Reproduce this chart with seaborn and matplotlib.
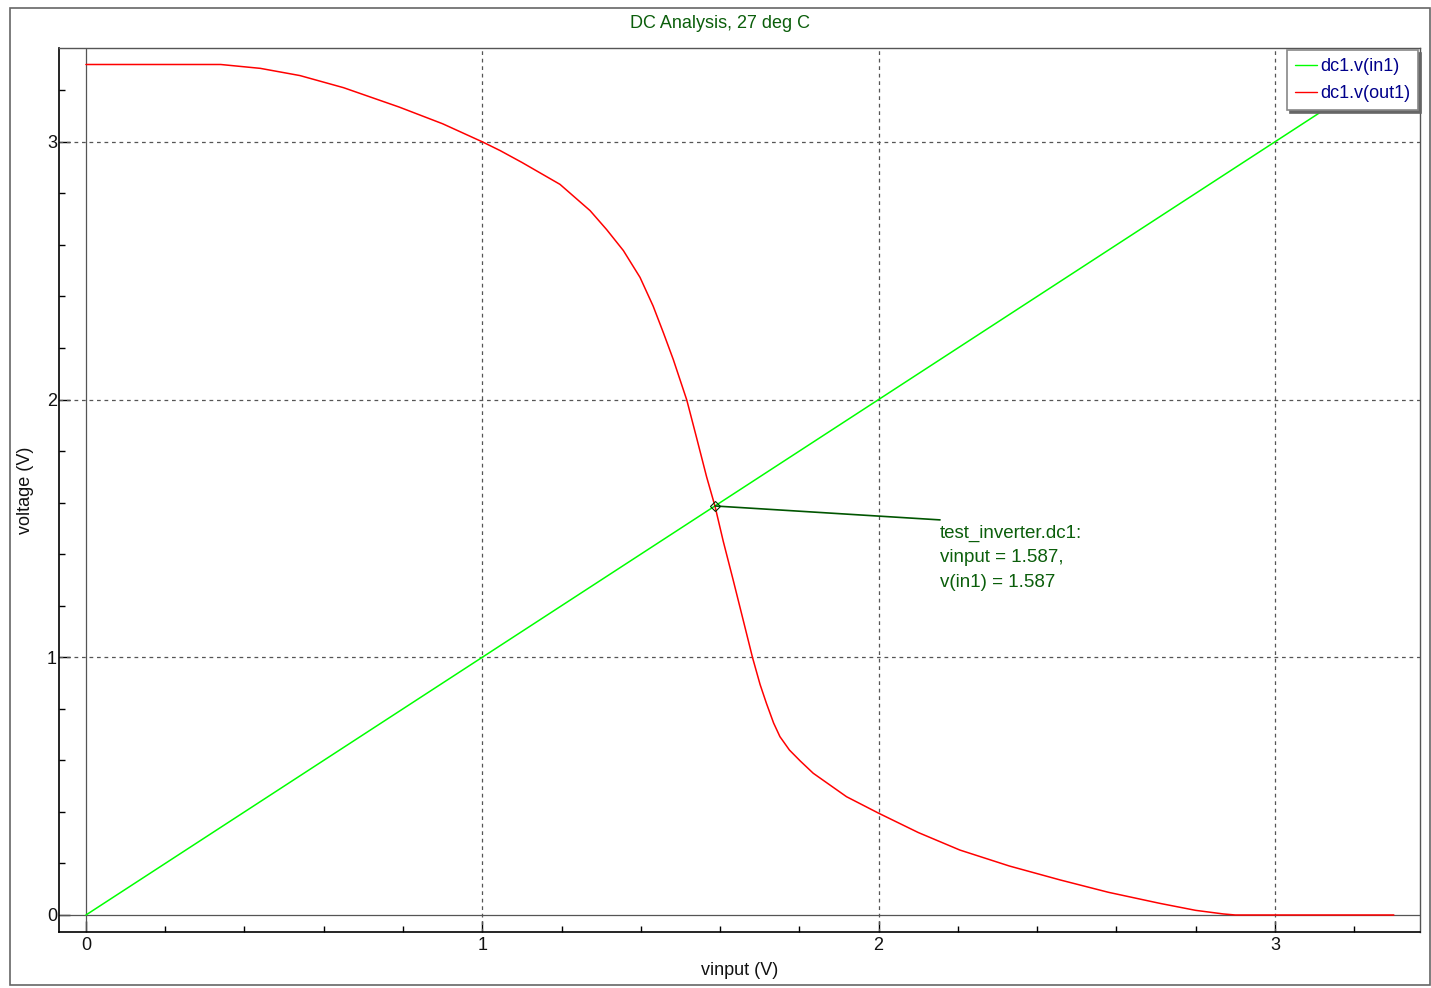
import numpy as np
import pandas as pd
import matplotlib
matplotlib.use("Agg")
import matplotlib.pyplot as plt
import seaborn as sns
from matplotlib.ticker import MultipleLocator
from matplotlib.patches import Rectangle

# Data
vin_in1 = [0.0, 3.3]
v_in1 = [0.0, 3.3]

vin_out1 = [0.0, 0.34, 0.44, 0.54, 0.65, 0.79, 0.9, 1.0, 1.045, 1.1, 1.196, 1.272,
            1.314, 1.356, 1.398, 1.431, 1.457, 1.482, 1.516, 1.541, 1.566, 1.587,
            1.608, 1.633, 1.659, 1.682, 1.701, 1.717, 1.735, 1.751, 1.775, 1.802,
            1.835, 1.919, 2.0, 2.1, 2.205, 2.33, 2.458, 2.58, 2.71, 2.8, 2.87,
            2.9, 3.3]
v_out1 = [3.3, 3.3, 3.285, 3.257, 3.21, 3.135, 3.07, 3.0, 2.966, 2.92, 2.835, 2.733,
          2.659, 2.578, 2.474, 2.363, 2.259, 2.155, 1.998, 1.85, 1.70, 1.587,
          1.45, 1.30, 1.14, 0.998, 0.894, 0.821, 0.745, 0.692, 0.64, 0.598,
          0.55, 0.459, 0.395, 0.32, 0.252, 0.19, 0.136, 0.088, 0.045, 0.018, 0.004,
          0.0, 0.0]

series_names = ["dc1.v(in1)", "dc1.v(out1)"]
series_colors = ["#00ff00", "#ff0000"]

cursor_x = 1.587
cursor_y = 1.587
label_x = 2.155
label_y = 1.533
cursor_text = "test_inverter.dc1:\nvinput = 1.587,\nv(in1) = 1.587"

title_text = "DC Analysis, 27 deg C"
xlabel_text = "vinput (V)"
ylabel_text = "voltage (V)"

df = pd.concat([
    pd.DataFrame({"x": vin_in1, "y": v_in1, "series": series_names[0]}),
    pd.DataFrame({"x": vin_out1, "y": v_out1, "series": series_names[1]}),
], ignore_index=True)

sns.set_style("white")
plt.rcParams["font.family"] = ["Liberation Sans", "DejaVu Sans"]

fig = plt.figure(figsize=(14.31, 9.88), dpi=100)
ax = fig.add_axes([59 / 1431, 1 - 932 / 988, (1420 - 59) / 1431, (932 - 48) / 988])

# outer frame
fig.patches.append(Rectangle((10 / 1431, 1 - 985 / 988), (1430 - 10) / 1431, (985 - 8) / 988,
                             transform=fig.transFigure, fill=False, edgecolor="#666666",
                             linewidth=1.2, zorder=0))

ax.set_xlim(-0.068, 3.366)
ax.set_ylim(-0.066, 3.364)

# grid and zero lines
for v in [1, 2, 3]:
    ax.axvline(v, color="#555555", linestyle=(0, (3, 3)), linewidth=0.9, zorder=1)
    ax.axhline(v, color="#555555", linestyle=(0, (3, 3)), linewidth=0.9, zorder=1)
ax.axvline(0, color="#555555", linewidth=0.9, zorder=1)
ax.axhline(0, color="#555555", linewidth=0.9, zorder=1)

sns.lineplot(data=df, x="x", y="y", hue="series", palette=dict(zip(series_names, series_colors)),
             sort=False, estimator=None, linewidth=1.1, ax=ax, zorder=3)

# cursor annotation
ax.plot([cursor_x, label_x], [cursor_y, label_y], color="#005500", linewidth=1.2, zorder=4)
ax.plot([cursor_x], [cursor_y], marker="D", markersize=5, markerfacecolor="none",
        markeredgecolor="#003300", markeredgewidth=0.8, zorder=5)
ax.text(label_x, label_y - 0.018, cursor_text, color="#0b5e0b", fontsize=13.5,
        va="top", ha="left", linespacing=1.57, zorder=5)

ax.xaxis.set_major_locator(MultipleLocator(1))
ax.xaxis.set_minor_locator(MultipleLocator(0.2))
ax.yaxis.set_major_locator(MultipleLocator(1))
ax.yaxis.set_minor_locator(MultipleLocator(0.2))
ax.tick_params(axis="both", which="major", direction="in", length=8, width=1,
               labelsize=13, color="black", labelcolor="#111111")
ax.tick_params(axis="x", which="major", pad=3.5)
ax.tick_params(axis="y", which="major", pad=1.5)
ax.tick_params(axis="both", which="minor", direction="in", length=4, width=1, color="black")
ax.tick_params(axis="x", which="both", bottom=True, top=False)
ax.tick_params(axis="y", which="both", left=True, right=False)

for side in ["left", "bottom"]:
    ax.spines[side].set_color("black")
    ax.spines[side].set_linewidth(1.2)
for side in ["top", "right"]:
    ax.spines[side].set_color("#555555")
    ax.spines[side].set_linewidth(1.0)

ax.set_xlabel(xlabel_text, fontsize=13, color="#111111", labelpad=5.5)
ax.set_ylabel(ylabel_text, fontsize=13, color="#111111", labelpad=9)
fig.text(720 / 1431, 1 - 24 / 988, title_text, ha="center", va="center",
         color="#0b5e0b", fontsize=13)

leg = ax.legend(loc="upper right", fontsize=13, frameon=True, fancybox=False,
                edgecolor="#888888", borderaxespad=0.1, handlelength=1.2,
                handletextpad=0.17, borderpad=0.45, labelspacing=0.55,
                shadow={"color": "#666666", "alpha": 1.0})
leg.get_frame().set_linewidth(1.2)
for t in leg.get_texts():
    t.set_color("#00008b")
for line in leg.get_lines():
    line.set_linewidth(1.0)

fig.savefig("out.png", dpi=100)
